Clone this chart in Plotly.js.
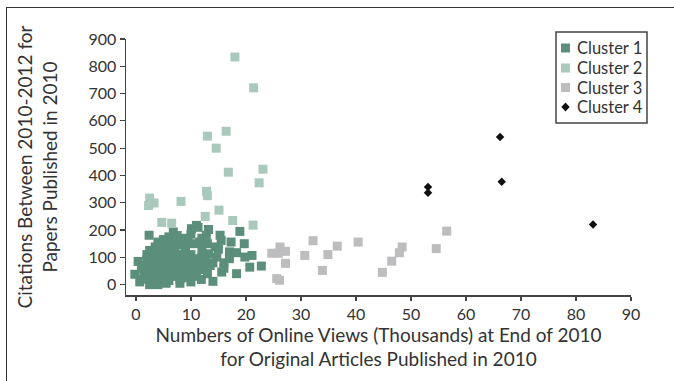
<!DOCTYPE html>
<html>
<head>
<meta charset="utf-8">
<script src="https://cdn.plot.ly/plotly-3.0.1.min.js"></script>
<style>
  html, body { margin: 0; padding: 0; background: #fff; overflow: hidden; }
  #wrap { position: relative; width: 674px; height: 381px; }
  #chart { width: 674px; height: 381px; }
  #frame { position: absolute; left: 6px; top: 7px; width: 720px; height: 420px;
           border-left: 1.5px solid #333; border-top: 1.5px solid #333; pointer-events: none; }
</style>
</head>
<body>
<div id="wrap">
  <div id="chart"></div>
  <div id="frame"></div>
</div>
<script>
// Cluster 1 (dark green squares)
const c1x = [-0.2,0.4,0.7,2.5,4,2.4,3.5,4,6.8,7.5,8.5,10.1,11,11.6,11.3,12.8,13.2,14.4,14.7,15.3,15.5,15.6,14,11.9,13.2,12,17.3,18.9,19.7,18.3,19.8,21.1,20.7,22.8,18.3,16,17,13,12,10,9,5,6,7,1,1.5,2,3,5.5,
  1.5,2,2.5,3,3,3.5,3.5,4,4,4.5,4.5,5,5,5.5,5.5,6,6,6,6.5,6.5,7,7,7.5,7.5,8,8,8,8.5,8.5,9,9,9.5,9.5,10,10,10.5,10.5,11,11,11.5,12,12.5,13,13.5,2,1,3.5,5,7,9.5,4,8,10,12,14,16,17,15,9,2.5,6];
const c1y = [38,85,10,0,0,181,138,156,193,180,170,205,217,156,210,181,202,138,101,181,162,46,12,19,113,65,156,195,150,117,101,107,64,68,40,80,95,150,170,185,140,165,150,125,60,30,110,95,5,
  50,70,20,40,60,80,110,25,50,70,95,35,120,55,85,15,40,105,65,130,30,90,50,110,20,75,145,40,100,60,120,25,85,45,110,70,150,30,95,55,125,85,40,70,90,20,15,145,160,165,135,5,10,100,80,60,120,130,30,125,175];
// Cluster 2 (light green squares)
const c2x = [18,21.4,16.4,13,14.6,23.1,16.8,22.4,12.85,13,2.5,3.3,2.3,8.2,15.1,12.6,17.6,4.7,6.5,21.3];
const c2y = [834,721,562,544,500,423,412,373,342,326,317,299,290,305,273,250,235,228,225,218];
// Cluster 3 (grey squares)
const c3x = [56.5,54.6,48.4,47.9,46.5,44.8,40.4,36.6,34.9,33.9,32.2,30.7,27.2,26.2,24.7,25.9,27.2,25.6,26.1];
const c3y = [196,132,138,117,86,45,156,141,110,52,161,107,122,138,115,115,78,22,16];
// Cluster 4 (black diamonds)
const c4x = [53.1,53.1,66.2,66.5,83.1];
const c4y = [358,337,541,377,220];

const names = ['Cluster 1','Cluster 2','Cluster 3','Cluster 4'];
const colors = ['#5b8f7b','#a9c9bc','#bdbdbf','#111111'];
const symbols = ['square','square','square','diamond'];

const xs = [c1x, c2x, c3x, c4x];
const ys = [c1y, c2y, c3y, c4y];
const traces = names.map((n, i) => ({
  x: xs[i], y: ys[i], name: n, type: 'scatter', mode: 'markers', showlegend: false,
  marker: {symbol: symbols[i], size: symbols[i] === 'diamond' ? 6.5 : 9, color: colors[i]}
}));

// Compact legend drawn with shapes + annotations (paper coordinates)
const plotL = 126, plotW = 505, plotB = 295, plotH = 256;
const px = v => (v - plotL) / plotW;
const py = v => (plotB - v) / plotH;
const legItemY = [48, 68, 87.5, 107];
const shapes = [{
  type: 'rect', xref: 'paper', yref: 'paper',
  x0: px(556), x1: px(647), y0: py(123), y1: py(32),
  line: {color: '#444', width: 1.5}, fillcolor: '#fff', layer: 'below'
}];
const annotations = [];
names.forEach((n, i) => {
  const cy = legItemY[i];
  if (symbols[i] === 'square') {
    shapes.push({type: 'rect', xref: 'paper', yref: 'paper',
      x0: px(561), x1: px(570), y0: py(cy + 4.5), y1: py(cy - 4.5),
      line: {width: 0}, fillcolor: colors[i]});
  } else {
    const cx = px(565.5), c = py(cy), dx = 4.2 / plotW, dy = 4.5 / plotH;
    shapes.push({type: 'path', xref: 'paper', yref: 'paper',
      path: `M ${cx - dx} ${c} L ${cx} ${c + dy} L ${cx + dx} ${c} L ${cx} ${c - dy} Z`,
      line: {width: 0}, fillcolor: colors[i]});
  }
  annotations.push({xref: 'paper', yref: 'paper', x: px(575), y: py(cy),
    xanchor: 'left', yanchor: 'middle', showarrow: false, text: n,
    font: {family: 'Lato, "Open Sans", sans-serif', size: 16.5, color: '#333'}});
});

const font = 'Lato, "Open Sans", sans-serif';
const layout = {
  width: 674, height: 381,
  margin: {l: 126, r: 43, t: 39, b: 86},
  paper_bgcolor: '#fff', plot_bgcolor: '#fff',
  font: {family: font, size: 16, color: '#333'},
  showlegend: false,
  shapes: shapes,
  annotations: annotations,
  xaxis: {
    range: [-1.8, 90], tickvals: [0,10,20,30,40,50,60,70,80,90],
    showgrid: false, zeroline: false, showline: true, linecolor: '#444', linewidth: 1.5,
    ticks: 'outside', ticklen: 4, tickcolor: '#444', tickwidth: 1.2,
    tickfont: {family: font, size: 16, color: '#333'},
    title: {text: 'Numbers of Online Views (Thousands) at End of 2010<br>for Original Articles Published in 2010',
            font: {family: font, size: 19, color: '#333'}, standoff: 0},
    automargin: false
  },
  yaxis: {
    range: [-38, 900], tickvals: [0,100,200,300,400,500,600,700,800,900],
    showgrid: false, zeroline: false, showline: true, linecolor: '#444', linewidth: 1.5,
    ticks: 'outside', ticklen: 5, tickcolor: '#444', tickwidth: 1.2,
    tickfont: {family: font, size: 16, color: '#333'},
    title: {text: 'Citations Between 2010-2012 for<br>Papers Published in 2010',
            font: {family: font, size: 19, color: '#333'}, standoff: 26},
    automargin: false
  }
};

Plotly.newPlot('chart', traces, layout, {staticPlot: true, displayModeBar: false});
</script>
</body>
</html>
